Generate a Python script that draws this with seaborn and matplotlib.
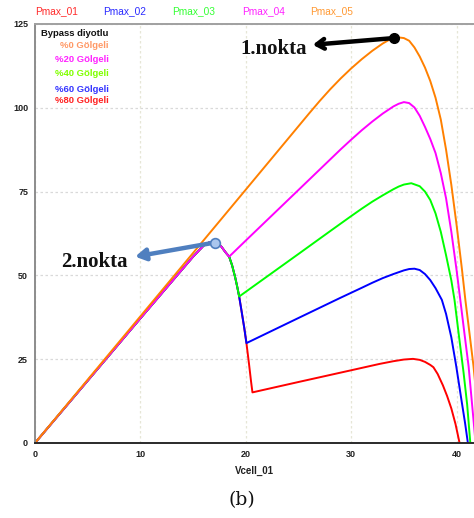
import matplotlib
matplotlib.use("Agg")
import matplotlib.pyplot as plt
import seaborn as sns
import pandas as pd

# ---------------- data ----------------
# shared start (all shaded curves follow this until the first bypass step)
v_common = [0, 5, 10, 15, 16, 16.5, 17.0, 17.3, 17.7, 18.1, 18.42]
p_common = [0, 18.6, 37.2, 55.6, 58.9, 59.8, 60.1, 59.9, 58.5, 56.8, 55.6]

# Pmax_05 : %0 shaded
v_orange = [0, 10, 20, 26, 27, 28, 29, 30, 31, 32, 33, 33.5, 34, 34.5, 35, 35.5, 36, 36.5,
            37, 37.5, 38, 38.5, 39, 39.5, 40, 40.5, 40.83, 41.2, 41.6, 42.0, 42.2]
p_orange = [0, 37.8, 75.6, 98.3, 102.0, 105.5, 108.75, 111.75, 114.5, 117.0, 119.2, 120.1,
            120.75, 121.0, 120.8, 120.0, 118.0, 115.3, 112.0, 108.0, 103.0, 96.5, 87.5,
            77.0, 65.0, 52.0, 42.7, 33.3, 23.0, 10.0, 0]

# Pmax_04 : %20 shaded
v_magenta_tail = [20, 25, 29, 30, 31, 32, 33, 34, 34.5, 35, 35.5, 36, 36.5, 37, 37.5, 38,
                  38.5, 39, 39.5, 40, 40.35, 40.75, 41.14, 41.6, 41.8]
p_magenta_tail = [60.4, 75.5, 87.6, 90.5, 93.3, 95.9, 98.3, 100.4, 101.2, 101.7, 101.4,
                  100.1, 97.6, 94.3, 90.7, 86.5, 80.5, 73.0, 63.0, 51.5, 42.7, 32.5,
                  22.8, 7.0, 0]

# Pmax_03 : %40 shaded
v_green_drop = [18.7, 19.0, 19.2, 19.37]
p_green_drop = [53.0, 49.3, 46.4, 43.7]
v_green_tail = [25, 28, 30, 31, 32, 33, 34, 34.5, 35, 35.7, 36.5, 37, 37.5, 38, 38.5, 39,
                39.5, 39.8, 40.2, 40.66, 41.0, 41.3]
p_green_tail = [56.4, 63.2, 67.7, 69.9, 72.0, 73.9, 75.7, 76.5, 77.1, 77.5, 76.6, 75.0,
                72.5, 68.5, 63.0, 56.0, 48.5, 42.7, 32.5, 21.0, 11.5, 0]

# Pmax_02 : %60 shaded
v_blue_drop = [19.6, 19.85, 20.06]
p_blue_drop = [39.3, 34.4, 29.8]
v_blue_tail = [25, 28.9, 31, 32, 33, 34, 35, 35.5, 36, 36.5, 37, 37.5, 38, 38.6, 39, 39.5,
               39.97, 40.5, 40.8, 41.07]
p_blue_tail = [37.3, 43.2, 46.3, 47.8, 49.2, 50.4, 51.5, 51.9, 52.0, 51.6, 50.4, 48.6,
               46.2, 42.7, 38.5, 31.5, 22.8, 12.0, 6.0, 0]

# Pmax_01 : %80 shaded
v_red_drop = [20.3, 20.5, 20.63]
p_red_drop = [23.7, 18.3, 15.1]
v_red_tail = [25, 30, 32.7, 34, 35, 35.86, 36.5, 37, 37.5, 37.8, 38.2, 38.7, 39.1, 39.5,
              39.9, 40.28]
p_red_tail = [18.2, 21.7, 23.6, 24.4, 24.9, 25.1, 24.8, 24.2, 23.3, 22.6, 20.6, 17.2,
              14.0, 10.3, 5.6, 0]

series_names = ["Pmax_01", "Pmax_02", "Pmax_03", "Pmax_04", "Pmax_05"]
shade_labels = ["%0 Gölgeli", "%20 Gölgeli", "%40 Gölgeli", "%60 Gölgeli", "%80 Gölgeli"]
x_ticks = [0, 10, 20, 30, 40]
y_ticks = [0, 25, 50, 75, 100, 125]
point1 = (34.03, 120.8)
point2 = (17.06, 59.8)

# ---------------- build curves ----------------
curves = {
    "Pmax_01": (v_common + v_green_drop + v_blue_drop + v_red_drop + v_red_tail,
                p_common + p_green_drop + p_blue_drop + p_red_drop + p_red_tail),
    "Pmax_02": (v_common + v_green_drop + v_blue_drop + v_blue_tail,
                p_common + p_green_drop + p_blue_drop + p_blue_tail),
    "Pmax_03": (v_common + v_green_drop + v_green_tail,
                p_common + p_green_drop + p_green_tail),
    "Pmax_04": (v_common + v_magenta_tail, p_common + p_magenta_tail),
    "Pmax_05": (v_orange, p_orange),
}
colors = {"Pmax_01": "#ff0000", "Pmax_02": "#0000ff", "Pmax_03": "#00ff00",
          "Pmax_04": "#ff00ff", "Pmax_05": "#ff8000"}
label_colors = {"Pmax_01": "#ff2a2a", "Pmax_02": "#2a2aff", "Pmax_03": "#33ff33",
                "Pmax_04": "#ff22ff", "Pmax_05": "#ff9933"}

sns.set_style("white")
plt.rcParams["font.family"] = ["Liberation Sans", "DejaVu Sans"]

W, H = 474, 518
fig = plt.figure(figsize=(W / 100, H / 100), dpi=100)
ax = fig.add_axes([35 / W, (H - 443) / H, (W - 35) / W, (443 - 24) / H])

for name in series_names:
    v, p = curves[name]
    df = pd.DataFrame({"V": v, "P": p})
    sns.lineplot(data=df, x="V", y="P", ax=ax, color=colors[name], lw=1.4,
                 estimator=None, sort=False)

ax.set_xlim(0, 41.65)
ax.set_ylim(0, 125)
ax.set_xticks(x_ticks)
ax.set_yticks(y_ticks)
ax.tick_params(length=0, labelsize=6.5, pad=5)
for lab in ax.get_xticklabels() + ax.get_yticklabels():
    lab.set_fontweight("bold")
    lab.set_color("#202020")
ax.set_ylabel("")
ax.set_xlabel("Vcell_01", fontsize=7, fontweight="bold", labelpad=5, color="#202020")

ax.grid(True, axis="y", color="#d9d9d9", linestyle=(0, (2, 2)), lw=0.9)
ax.grid(True, axis="x", color="#e6e6d6", linestyle=(0, (2, 2)), lw=0.9)
ax.set_axisbelow(True)
ax.spines["left"].set_color("#8c8c8c")
ax.spines["left"].set_linewidth(1.4)
ax.spines["bottom"].set_color("#2a2a2a")
ax.spines["bottom"].set_linewidth(1.4)
ax.spines["top"].set_color("#a0a0a0")
ax.spines["top"].set_linewidth(1.4)
ax.spines["right"].set_visible(False)

# top series labels
top_x = [35, 103, 172, 242, 310]
for name, xp in zip(series_names, top_x):
    fig.text(xp / W, 1 - 11 / H, name, color=label_colors[name], fontsize=7.3,
             ha="left", va="center")

# inner legend text
fig.text(41 / W, 1 - 33.5 / H, "Bypass diyotlu", fontsize=6.8, fontweight="bold",
         color="#111111", ha="left", va="center")
leg_cols = ["#ff9966", "#ff22ff", "#80ff00", "#3333ff", "#ff2222"]
leg_y = [45.5, 59, 73, 89, 101]
for lab, c, yp in zip(shade_labels, leg_cols, leg_y):
    fig.text(109 / W, 1 - yp / H, lab, fontsize=6.8, fontweight="bold", color=c,
             ha="right", va="center")

# annotations
ax.annotate("", xy=(26.35, 118.8), xytext=point1,
            arrowprops=dict(arrowstyle="->,head_length=0.55,head_width=0.35",
                            color="black", lw=3.2, shrinkA=0, shrinkB=0))
ax.plot([point1[0]], [point1[1]], "o", color="black", ms=7, zorder=5)
ax.text(22.65, 117.6, "1.nokta", family=["Liberation Serif", "DejaVu Serif"],
        fontsize=15, fontweight="bold", ha="center", va="center", color="#111111")

ax.annotate("", xy=(9.5, 55.6), xytext=point2,
            arrowprops=dict(arrowstyle="-|>,head_length=0.6,head_width=0.35",
                            color="#4f7fbf", lw=3.2, shrinkA=0, shrinkB=0))
ax.plot([point2[0]], [point2[1]], "o", mfc="#a9c6ee", mec="#4f7fbf", mew=1.2,
        ms=7, zorder=5)
ax.text(5.6, 54.1, "2.nokta", family=["Liberation Serif", "DejaVu Serif"],
        fontsize=15, fontweight="bold", ha="center", va="center", color="#111111")

fig.text(242 / W, 1 - 500 / H, "(b)", family=["DejaVu Serif"], fontsize=13.5,
         ha="center", va="center", color="#111111")

fig.savefig("out.png", dpi=100)
